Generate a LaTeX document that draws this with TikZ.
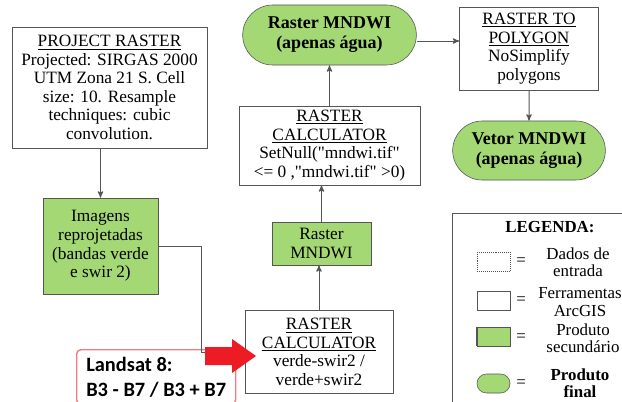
\documentclass[tikz,border=0pt]{standalone}
\usepackage{fontspec}
\setmainfont{Liberation Serif}[Ligatures=TeXOff]
\newfontfamily\landsatfont{Carlito}
\usetikzlibrary{positioning,arrows,shapes.misc,calc}
\definecolor{prodgreen}{RGB}{163,216,117}
\definecolor{linegray}{RGB}{85,85,85}
\definecolor{arrowred}{RGB}{237,28,36}
\definecolor{framered}{RGB}{240,125,125}
\tikzset{
	>=stealth'
}

\begin{document}
\begin{tikzpicture}[
	x = 0.025cm,
	y = -0.025cm,
	every node/.style = {
		font = \fontsize{12.3}{13.2}\selectfont,
		align = center
	},
	tool/.style = {
		draw = linegray,
		fill = white,
		inner sep = 1pt
	},
	product/.style = {
		draw = linegray,
		fill = prodgreen,
		inner sep = 1pt
	},
	final/.style = {
		rounded rectangle,
		draw = linegray,
		fill = prodgreen,
		font = \fontsize{12.8}{14.2}\selectfont\bfseries
	},
	link/.style = {
		draw = linegray,
		line width = 0.7pt
	},
	legtext/.style = {
		font = \fontsize{12}{12.2}\selectfont
	},
	legbox/.style = {
		minimum width = 0.825cm,
		minimum height = 0.475cm,
		inner sep = 0pt
	}
	]
	
	\clip (0,0) rectangle (622,401);
	
	\node (project) [tool, minimum width = 4.875cm, minimum height = 3.025cm] at (109.5,87.5) {\underline{PROJECT RASTER}\\ Projected: SIRGAS 2000\\ UTM Zona 21 S. Cell\\ size: 10. Resample\\ techniques: cubic\\ convolution.};
	\node (images) [product, minimum width = 2.875cm, minimum height = 2.4cm] at (100.5,246) {Imagens\\ reprojetadas\\ (bandas verde\\ e swir 2)};
	
	\node (calc_ndwi) [tool, minimum width = 3.7cm, minimum height = 2.075cm] at (319,352) {\underline{RASTER}\\ \underline{CALCULATOR}\\ verde-swir2 /\\ verde+swir2};
	\node (raster_mndwi) [product, minimum width = 2.475cm, minimum height = 1.075cm] at (321.5,243.5) {Raster\\ MNDWI};
	\node (calc_null) [tool, minimum width = 4.525cm, minimum height = 1.975cm] at (329.5,145.5) {\underline{RASTER}\\ \underline{CALCULATOR}\\ SetNull("mndwi.tif"\\ <= 0 ,"mndwi.tif" >0)};
	\node (final_raster) [final, minimum width = 4.575cm, minimum height = 1.5cm] at (329.5,35) {Raster MNDWI\\ (apenas água)};
	
	\node (to_polygon) [tool, minimum width = 3.475cm, minimum height = 2.075cm] at (529,48.5) {\underline{RASTER TO}\\ \underline{POLYGON}\\ NoSimplify\\ polygons};
	\node (final_vector) [final, minimum width = 4.05cm, minimum height = 1.475cm] at (529,150.5) {Vetor MNDWI\\ (apenas água)};
	
	\node (landsat) [draw = framered, line width = 1pt, rounded corners = 3pt, anchor = north west, minimum width = 3.975cm, inner sep = 5pt, align = left, font = \landsatfont\bfseries\fontsize{14.5}{17.8}\selectfont] at (76,349) {Landsat 8:\\ B3 - B7 / B3 + B7};
	
	% connectors
	\coordinate (raster_out) at ($(final_raster.east)+(0,6)$);
	\draw[link, ->] (images.north |- project.south) -- (images.north);
	\draw[link] (images.east) -| ($(calc_ndwi.west)+(-43,0)$) -- (calc_ndwi.west);
	\draw[link, ->] (calc_ndwi.north) -- (calc_ndwi.north |- raster_mndwi.south);
	\draw[link, ->] (raster_mndwi.north) -- (raster_mndwi.north |- calc_null.south);
	\draw[link, ->] (calc_null.north) -- (calc_null.north |- final_raster.south);
	\draw[link, ->] (raster_out) -- (raster_out -| to_polygon.west);
	\draw[link, ->] (to_polygon) -- (final_vector);
	
	% big red arrow
	\fill[arrowred] (205,347) -- (232,347) -- (232,339) -- (256,356) -- (232,373) -- (232,365) -- (205,365) -- cycle;
	
	% legend
	\node (legend) [draw = linegray, anchor = north west, minimum width = 5cm, minimum height = 5.5cm] at (452,213) {};
	\node (leg_title) [font = \fontsize{12}{13}\selectfont\bfseries] at (550,227) {LEGENDA:};
	
	\node (leg_input) [legbox, draw = linegray, densely dotted] at (493.5,261.5) {};
	\node (eq_input) [legtext] at (521,262) {=};
	\node (txt_input) [legtext] at (578,262) {Dados de\\ entrada};
	
	\node (leg_tool) [legbox, draw = linegray] at (493.5,300.5) {};
	\node (eq_tool) [legtext] at (521,301) {=};
	\node (txt_tool) [legtext] at (580,302) {Ferramentas\\ ArcGIS};
	
	\node (leg_product) [legbox, draw = linegray, fill = prodgreen] at (493.5,336.5) {};
	\draw[linegray, line width = 1.5pt] (leg_product.north west) -- (leg_product.south west);
	\node (eq_product) [legtext] at (521,338) {=};
	\node (txt_product) [legtext] at (583,338) {Produto\\ secundário};
	
	\node (leg_final) [rounded rectangle, draw = linegray, fill = prodgreen, minimum width = 0.825cm, minimum height = 0.475cm, inner sep = 0pt] at (493.5,383.5) {};
	\node (eq_final) [legtext] at (521,384) {=};
	\node (txt_final) [legtext, font = \fontsize{12}{12.2}\selectfont\bfseries] at (580,383) {Produto\\ final};
	
\end{tikzpicture}
\end{document}
